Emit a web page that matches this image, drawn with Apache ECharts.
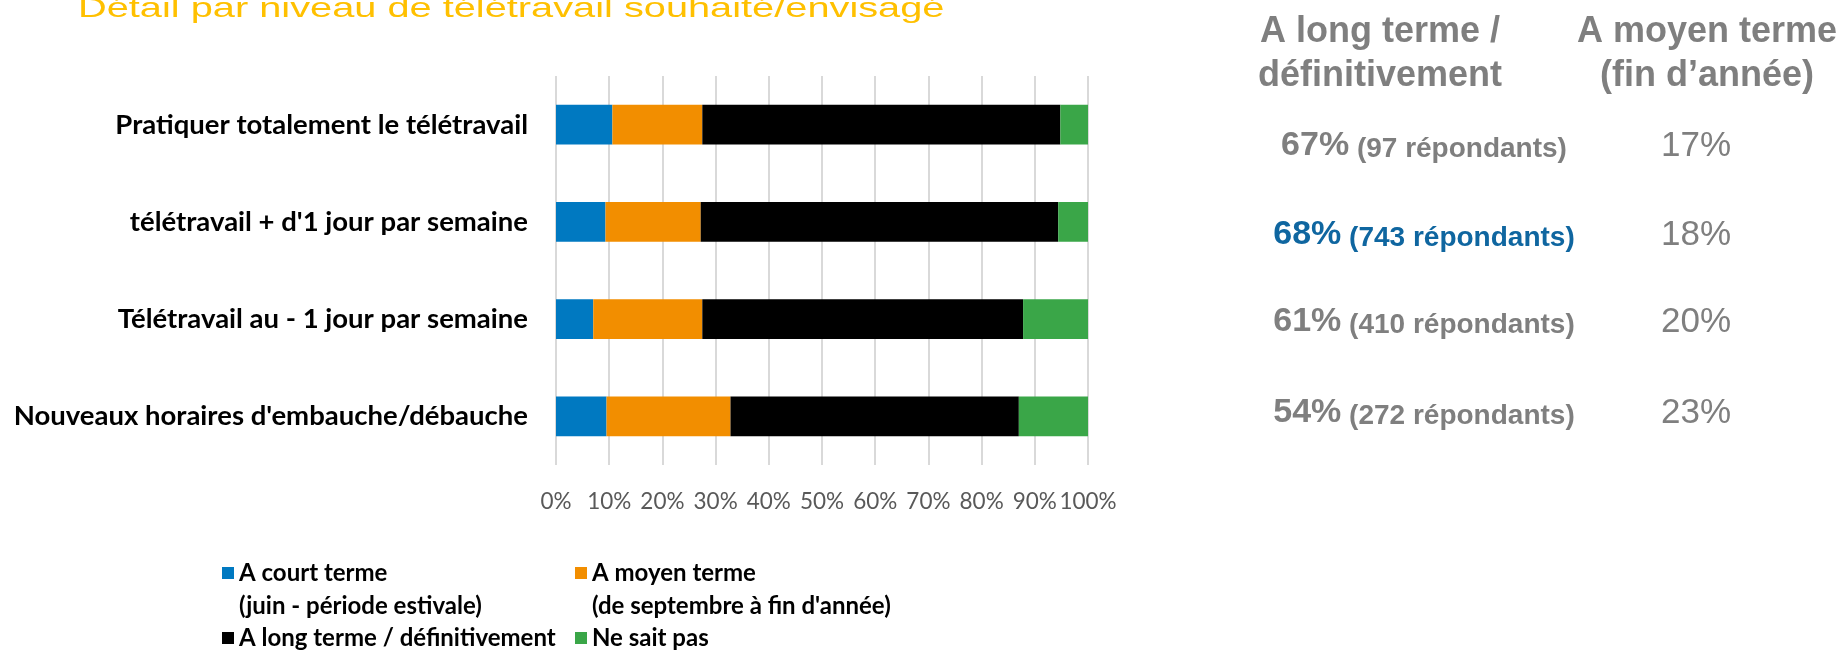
<!DOCTYPE html>
<html lang="fr">

<head>
  <meta charset="UTF-8">
  <title>Détail par niveau de télétravail</title>
  <script src="https://cdn.jsdelivr.net/npm/echarts@6/dist/echarts.min.js"></script>
  <style>
    html,
    body {
      margin: 0;
      padding: 0;
      background: #fff;
    }

    #chart {
      width: 1846px;
      height: 650px;
    }
  </style>
</head>

<body>
  <div id="chart"></div>
  <script>
    // données du graphique
    const categories = [
      'Pratiquer totalement le télétravail',
      "télétravail + d'1 jour par semaine",
      'Télétravail au - 1 jour par semaine',
      "Nouveaux horaires d'embauche/débauche"
    ];
    const seriesNames = ['A court terme', 'A moyen terme', 'A long terme / définitivement', 'Ne sait pas'];
    const legendSubtitles = ['(juin - période estivale)', "(de septembre à fin d'année)"];
    const courtTerme = [10.6, 9.3, 7.0, 9.5];
    const moyenTerme = [16.9, 17.9, 20.5, 23.3];
    const longTerme = [67.3, 67.2, 60.3, 54.2];
    const neSaitPas = [5.2, 5.6, 12.2, 13.0];
    const colors = ['#0079c1', '#f28e00', '#000000', '#3aa648'];

    // tableau de droite
    const pctLongTerme = [67, 68, 61, 54];
    const nbRepondants = [97, 743, 410, 272];
    const pctMoyenTerme = [17, 18, 20, 23];
    const rowY = [146, 235, 322, 413]; // centre des lignes
    const highlightRow = 1;

    const calibri = 'Lato, sans-serif';
    const arial = '"Liberation Sans", Arial, sans-serif';
    const grey = '#7f7f7f';
    const blue = '#0f66a0';

    let chart = echarts.init(document.getElementById('chart'));

    let seriesData = [courtTerme, moyenTerme, longTerme, neSaitPas];
    let series = seriesData.map((d, i) => ({
      name: seriesNames[i],
      type: 'bar',
      stack: 'total',
      barCategoryGap: '59%',
      data: d,
      itemStyle: { color: colors[i] }
    }));

    // une légende par carré (2 colonnes alignées)
    let legendBase = {
      padding: 0,
      icon: 'rect',
      itemWidth: 12,
      itemHeight: 12,
      selectedMode: false,
      textStyle: { fontFamily: calibri, fontWeight: 'bold', fontSize: 24, color: '#000' }
    };
    let legendLeft = [222, 575];
    let legendTop = [561, 626];
    let legends = seriesNames.map((n, i) => Object.assign({}, legendBase, {
      data: [n],
      left: legendLeft[i % 2],
      top: legendTop[Math.floor(i / 2)]
    }));

    let graphics = [];
    // titre (étiré comme dans la diapo)
    graphics.push({
      type: 'text',
      x: 78,
      y: 9,
      scaleX: 1.42,
      style: {
        text: 'Détail par niveau de télétravail souhaité/envisagé',
        font: '28px ' + arial,
        fill: '#ffc000',
        align: 'left',
        verticalAlign: 'middle'
      }
    });
    // deuxième ligne des légendes
    legendSubtitles.forEach((t, i) => {
      graphics.push({
        type: 'text',
        x: legendLeft[i] + 17,
        y: 606,
        style: {
          text: t,
          font: 'bold 24px ' + calibri,
          fill: '#000',
          align: 'left',
          verticalAlign: 'middle'
        }
      });
    });
    // en-têtes
    [['A long terme /\ndéfinitivement', 1380], ['A moyen terme\n(fin d’année)', 1707]].forEach(h => {
      graphics.push({
        type: 'text',
        x: h[1],
        y: 10,
        style: {
          text: h[0],
          font: 'bold 36px ' + arial,
          lineHeight: 44,
          fill: grey,
          align: 'center',
          verticalAlign: 'top'
        }
      });
    });
    // lignes
    pctLongTerme.forEach((p, i) => {
      let c = i === highlightRow ? blue : grey;
      graphics.push({
        type: 'text',
        x: 1424,
        y: rowY[i],
        style: {
          text: `{b|${p}%}{s| (${nbRepondants[i]} répondants)}`,
          align: 'center',
          verticalAlign: 'middle',
          rich: {
            b: { fontFamily: arial, fontWeight: 'bold', fontSize: 34, lineHeight: 34, fill: c, verticalAlign: 'bottom' },
            s: { fontFamily: arial, fontWeight: 'bold', fontSize: 28, lineHeight: 28, fill: c, verticalAlign: 'bottom' }
          }
        }
      });
      graphics.push({
        type: 'text',
        x: 1696,
        y: rowY[i],
        style: {
          text: pctMoyenTerme[i] + '%',
          font: '35px ' + arial,
          fill: grey,
          align: 'center',
          verticalAlign: 'middle'
        }
      });
    });

    chart.setOption({
      animation: false,
      grid: { left: 556, top: 76, width: 532, height: 389 },
      legend: legends,
      xAxis: {
        type: 'value',
        min: 0,
        max: 100,
        interval: 10,
        axisLine: { show: false },
        axisTick: { show: false },
        axisLabel: {
          formatter: '{value}%',
          fontFamily: calibri,
          fontSize: 22.5,
          color: '#595959',
          margin: 25,
          showMinLabel: true,
          showMaxLabel: true,
          hideOverlap: false
        },
        splitLine: { lineStyle: { color: '#d9d9d9', width: 2 } }
      },
      yAxis: {
        type: 'category',
        data: categories,
        inverse: true,
        axisLine: { show: false },
        axisTick: { show: false },
        axisLabel: { fontFamily: calibri, fontWeight: 'bold', fontSize: 27.5, color: '#000', margin: 28 }
      },
      series: series,
      graphic: graphics
    });
  </script>
</body>

</html>
